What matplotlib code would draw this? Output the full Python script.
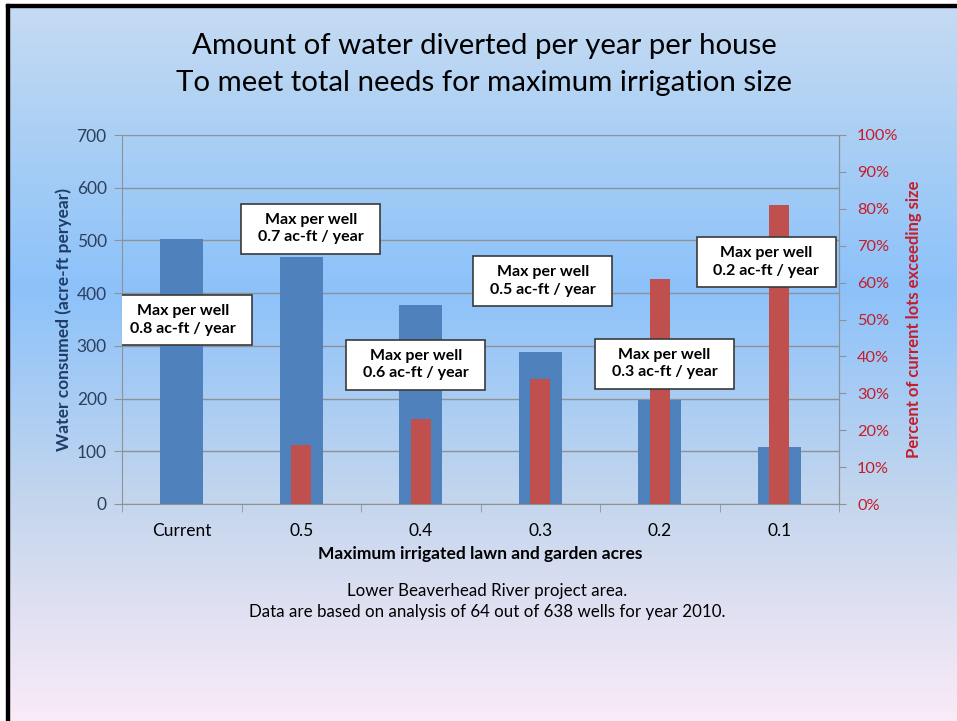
import numpy as np
import matplotlib.pyplot as plt
from matplotlib.patches import Rectangle
from matplotlib.colors import LinearSegmentedColormap

# data
categories = ['Current', '0.5', '0.4', '0.3', '0.2', '0.1']
water_consumed = [503, 468, 378, 288, 198, 108]      # acre-ft per year
pct_exceeding = [0, 16, 23, 34, 61, 81]              # percent of current lots
max_per_well = ['0.8', '0.7', '0.6', '0.5', '0.3', '0.2']  # ac-ft / year

# box centres (category offset, left-axis value)
box_dx = [0.01, 0.08, -0.04, 0.02, 0.04, -0.11]
box_y = [349, 522, 264, 423, 266, 459]

FONT = 'Lato'
W, H = 957, 721
fig = plt.figure(figsize=(W / 100, H / 100), dpi=100)

# slide background gradient
bg = fig.add_axes([0, 0, 1, 1])
bg.set_xlim(0, W)
bg.set_ylim(H, 0)
bg.axis('off')
cmap = LinearSegmentedColormap.from_list('slide', [
    (0.0, (0.78, 0.86, 0.95)),
    (0.20, (0.66, 0.81, 0.96)),
    (0.40, (0.55, 0.76, 0.98)),
    (0.70, (0.77, 0.84, 0.93)),
    (0.85, (0.88, 0.88, 0.95)),
    (1.0, (0.98, 0.92, 0.97)),
])
grad = np.linspace(0, 1, 400).reshape(-1, 1)
bg.imshow(grad, cmap=cmap, aspect='auto', extent=[0, W, H, 0])
bg.add_patch(Rectangle((0, 0), 6, H, color='white'))
bg.add_patch(Rectangle((0, 0), W, 4, color='white'))
bg.add_patch(Rectangle((6, 4), 3, H, color='black'))
bg.add_patch(Rectangle((6, 4), W, 3, color='black'))

bg.text(484, 46, 'Amount of water diverted per year per house', fontsize=21.2,
        family=FONT, ha='center', va='center')
bg.text(484, 83, 'To meet total needs for maximum irrigation size', fontsize=21.2,
        family=FONT, ha='center', va='center')
bg.text(487, 591, 'Lower Beaverhead River project area.', fontsize=12.2,
        family=FONT, ha='center', va='center')
bg.text(487, 612, 'Data are based on analysis of 64 out of 638 wells for year 2010.',
        fontsize=12.2, family=FONT, ha='center', va='center')

ax1 = fig.add_axes([122 / W, 1 - 504 / H, (839 - 122) / W, (504 - 135) / H])
ax1.patch.set_alpha(0)
x = np.arange(len(categories))
ax1.bar(x, water_consumed, width=0.36, color='#4F81BD', zorder=2)
ax1.set_ylim(0, 700)
ax1.set_xlim(-0.5, len(categories) - 0.5)
ax1.set_yticks(range(0, 701, 100))
ax1.yaxis.grid(True, color='#8E9296', lw=1, zorder=0)
ax1.set_axisbelow(True)
ax1.set_xticks(x)
ax1.set_xticklabels(categories, family=FONT, fontsize=12.5)
ax1.set_xticks(np.arange(-0.5, len(categories), 1), minor=True)
ax1.tick_params(axis='x', which='major', length=0, pad=14)
ax1.tick_params(axis='x', which='minor', length=6, color='#8E9296', direction='out')
ax1.tick_params(axis='y', length=6, color='#8E9296', labelcolor='#2E3F5C',
                labelsize=12.5, pad=5)
for lab in ax1.get_yticklabels():
    lab.set_family(FONT)
ax1.spines['top'].set_visible(False)
for s in ['left', 'bottom', 'right']:
    ax1.spines[s].set_color('#8E9296')
ax1.set_ylabel('Water consumed (acre-ft peryear)', family=FONT, fontsize=12.5,
               fontweight='bold', color='#1F3D66', labelpad=3)
ax1.set_xlabel('Maximum irrigated lawn and garden acres', family=FONT,
               fontsize=12.5, fontweight='bold', labelpad=5)

ax2 = ax1.twinx()
ax2.bar(x, pct_exceeding, width=0.165, color='#C0504D', zorder=2)
ax2.set_ylim(0, 100)
ax2.set_yticks(range(0, 101, 10))
ax2.set_yticklabels([f'{v}%' for v in range(0, 101, 10)], family=FONT)
ax2.tick_params(axis='y', length=5, color='#8E9296', labelcolor='#C41E2A',
                labelsize=11.8, pad=8)
for s in ['top', 'left', 'bottom']:
    ax2.spines[s].set_visible(False)
ax2.spines['right'].set_color('#8E9296')
ax2.set_ylabel('Percent of current lots exceeding size', family=FONT, fontsize=12,
               fontweight='bold', color='#C41E2A', labelpad=5)

# annotation boxes, drawn above both bar series
bw, bh = 139 / 119.5, 50 / (369 / 700)
for i, val in enumerate(max_per_well):
    cx, cy = x[i] + box_dx[i], box_y[i]
    ax2.add_patch(Rectangle((cx - bw / 2, cy - bh / 2), bw, bh, transform=ax1.transData,
                            facecolor='white', edgecolor='#3A3A3A', lw=1.2, zorder=5))
    ax2.text(cx, cy, f'Max per well\n{val} ac-ft / year', transform=ax1.transData,
             ha='center', va='center', multialignment='center', family=FONT,
             fontsize=11.5, fontweight='bold', linespacing=1.3, zorder=6)
ax2.set_ylim(0, 100)
ax2.set_xlim(-0.5, len(categories) - 0.5)

fig.savefig('out.png', dpi=100)
